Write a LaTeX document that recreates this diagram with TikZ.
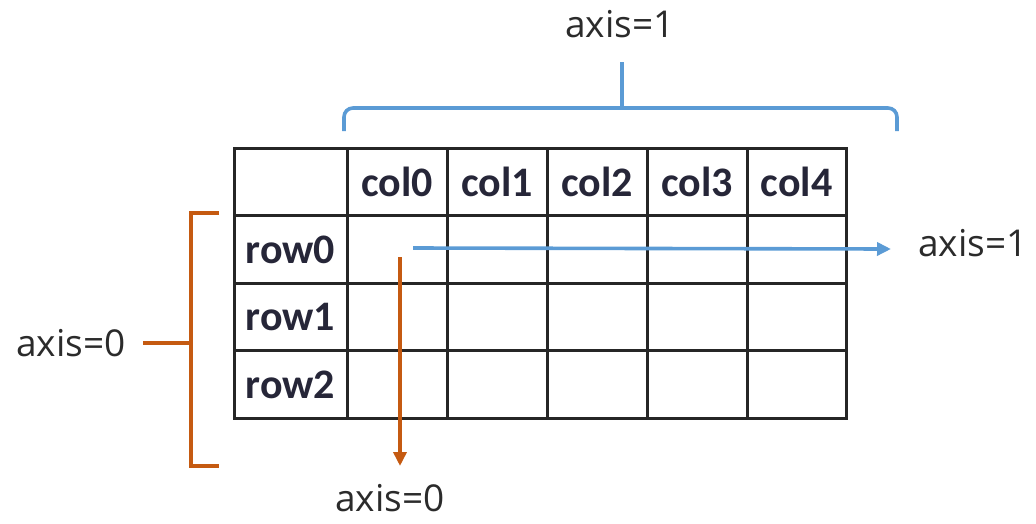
\documentclass[tikz,border=0pt]{standalone}
\usepackage{fontspec}
\setmainfont{Open Sans}
\newfontfamily\cellfont{Carlito}
\usetikzlibrary{arrows.meta}
\definecolor{axblue}{HTML}{5B9BD5}
\definecolor{axorange}{HTML}{C55A11}
\definecolor{txtgrey}{HTML}{2B2B2B}
\definecolor{celltxt}{HTML}{262638}
\begin{document}
\begin{tikzpicture}[x=1pt,y=-1pt,
  cell/.style={draw=black!85,line width=3pt,minimum width=#1,minimum height=67.5pt,inner sep=0pt,
    font=\cellfont\bfseries\fontsize{42}{46}\selectfont,text=celltxt},
  cell/.default=100pt,
  axlabel/.style={font=\fontsize{37}{42}\selectfont,text=txtgrey,inner sep=0pt},
  bluebrace/.style={draw=axblue,line width=3.6pt},
  orangebrace/.style={draw=axorange,line width=3.8pt},
  bluearrow/.style={draw=axblue,line width=3.6pt,-{Triangle[length=14pt,width=13pt]}},
  orangearrow/.style={draw=axorange,line width=3.6pt,-{Triangle[length=14pt,width=13pt]}}]
\useasboundingbox (0,0) rectangle (1036,523);
% header row
\node[cell=113pt] (h) at (290.5,182) {};
\node[cell] (c0) at (397,182) {col0};
\node[cell] (c1) at (497,182) {col1};
\node[cell] (c2) at (597,182) {col2};
\node[cell] (c3) at (697,182) {col3};
\node[cell=99pt] (c4) at (796.5,182) {col4};
% rows
\foreach \r/\y in {0/249.5,1/317,2/384.5}{
  \node[cell=113pt] (r\r) at (290.5,\y) {row\r};
  \node[cell] (r\r c0) at (397,\y) {};
  \node[cell] (r\r c1) at (497,\y) {};
  \node[cell] (r\r c2) at (597,\y) {};
  \node[cell] (r\r c3) at (697,\y) {};
  \node[cell=99pt] (r\r c4) at (796.5,\y) {};
}
% labels
\node[axlabel] (top1) at (620,24) {axis=1};
\node[axlabel] (right1) at (973,243) {axis=1};
\node[axlabel] (left0) at (71,343) {axis=0};
\node[axlabel] (bot0) at (390,498) {axis=0};
% braces
\coordinate (bl) at (344,131);
\coordinate (br) at (897,131);
\coordinate (bm) at (622,108);
\coordinate (bt) at (622,62);
\draw[bluebrace,rounded corners=9pt] (bl) |- (bm) -| (br);
\draw[bluebrace] (bt) -- (bm);
\coordinate (ot) at (219,213);
\coordinate (ob) at (219,466);
\coordinate (om) at (191,343);
\coordinate (oml) at (143,343);
\draw[orangebrace] (ot) -| (om) |- (ob);
\draw[orangebrace] (oml) -- (om);
% arrows
\coordinate (bs) at (413,248);
\coordinate (be) at (891,249);
\draw[bluearrow] (bs) -- (be);
\coordinate (os) at (400,257);
\coordinate (oe) at (400,466);
\draw[orangearrow] (os) -- (oe);
\end{tikzpicture}
\end{document}
